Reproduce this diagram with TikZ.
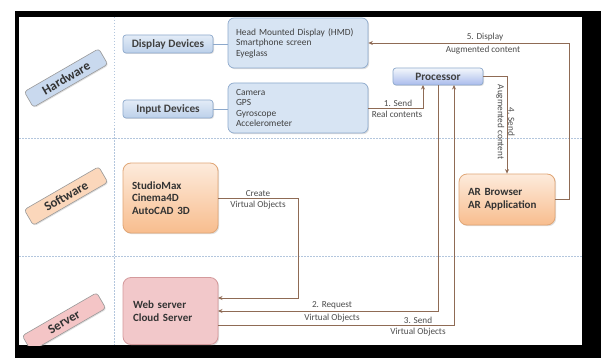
\documentclass[tikz,border=0pt]{standalone}
\usepackage{fontspec}
\setmainfont{Carlito}
\usetikzlibrary{arrows.meta,shadows}
\definecolor{arrc}{HTML}{8F6B55}
\definecolor{dotc}{HTML}{B3C6DD}
\definecolor{bluebd}{HTML}{8DA9CC}
\definecolor{bluetop}{HTML}{E3ECF7}
\definecolor{bluebot}{HTML}{BCD0EA}
\definecolor{orgtop}{HTML}{FDEBDC}
\definecolor{orgbot}{HTML}{F8BD8E}
\definecolor{orgbd}{HTML}{E0A676}
\definecolor{pinkf}{HTML}{F2C8CA}
\definecolor{pinkbd}{HTML}{D49A9C}
\tikzset{
  arr/.style={draw=arrc, line width=0.9pt, -{Stealth[length=4.5pt,width=4pt]}},
  conn/.style={draw=bluebd, line width=0.8pt},
  sep/.style={draw=dotc, line width=0.7pt, dash pattern=on 1.5pt off 1.5pt},
  catlabel/.style={draw=gray!80, line width=0.6pt, rounded corners=3pt, minimum width=86pt, minimum height=18pt, inner sep=1pt, rotate=30, font=\bfseries\fontsize{13}{14}\selectfont, text=black!80, drop shadow={opacity=0.25,shadow xshift=1pt,shadow yshift=-1pt}},
  devbox/.style={draw=bluebd, line width=0.7pt, rounded corners=3pt, top color=bluetop, bottom color=bluebot, minimum width=90pt, minimum height=18pt, inner sep=1pt, font=\bfseries\fontsize{11.3}{12}\selectfont, text=black!75, drop shadow={opacity=0.25,shadow xshift=1pt,shadow yshift=-1pt}},
  listbox/.style={draw=bluebd, line width=0.7pt, rounded corners=6pt, fill=bluetop!70!bluebot, minimum width=140pt, minimum height=50pt, text width=124pt, inner xsep=8pt, align=left, font=\fontsize{9.4}{10.6}\selectfont, text=black!75, drop shadow={opacity=0.25,shadow xshift=1.2pt,shadow yshift=-1.2pt}},
  procbox/.style={draw=bluebd, line width=0.7pt, rounded corners=3pt, top color=white!60!bluetop, bottom color=bluebot!90!blue, minimum width=90pt, minimum height=17pt, inner sep=1pt, font=\bfseries\fontsize{11.3}{12}\selectfont, text=black!75, drop shadow={opacity=0.25,shadow xshift=1pt,shadow yshift=-1pt}},
  orgbox/.style={draw=orgbd, line width=0.8pt, rounded corners=8pt, top color=orgtop, bottom color=orgbot, align=left, inner xsep=9pt, font=\bfseries\fontsize{11}{12.6}\selectfont, text=black!80, drop shadow={opacity=0.25,shadow xshift=1.2pt,shadow yshift=-1.2pt}},
  pinkbox/.style={draw=pinkbd, line width=0.8pt, rounded corners=8pt, fill=pinkf, align=left, inner xsep=10pt, font=\bfseries\fontsize{11}{12.8}\selectfont, text=black!80, drop shadow={opacity=0.25,shadow xshift=1.2pt,shadow yshift=-1.2pt}},
  lbl/.style={font=\fontsize{9.2}{10.5}\selectfont, text=black!70, inner sep=0.5pt}
}
\begin{document}
\begin{tikzpicture}[x=1pt,y=-1pt]
\useasboundingbox (0,0) rectangle (601,358);
% frame
\fill[white] (0,0) rectangle (601,358);
\fill[black] (15,11) rectangle (601,358);
\fill[white] (19,17) rectangle (582,345);
\begin{scope}
\clip (19,17) rectangle (582,345);
% separators
\draw[sep] (114,17) -- (114,345);
\draw[sep] (19,138) -- (582,138);
\draw[sep] (19,256) -- (582,256);
% category labels
\node[catlabel, fill=bluebot!80!white] (hw) at (66,78) {Hardware};
\node[catlabel, fill=orgbot!60!white] (sw) at (66,196) {Software};
\node[catlabel, fill=pinkf!95!red!90!white] (sv) at (64,322) {Server};
% boxes
\node[devbox] (disp) at (168,44) {Display Devices};
\node[devbox] (indev) at (168,109) {Input Devices};
\node[listbox] (hmd) at (298,43) {Head Mounted Display (HMD)\\Smartphone screen\\Eyeglass};
\node[listbox] (inp) at (298,108) {Camera\\GPS\\Gyroscope\\Accelerometer};
\node[procbox] (proc) at (438,76.5) {Processor};
\node[orgbox, minimum width=95pt, minimum height=70pt, text width=77pt] (studio) at (170.5,198) {StudioMax\\Cinema4D\\AutoCAD 3D};
\node[pinkbox, minimum width=95pt, minimum height=67pt, text width=75pt] (web) at (170.5,311) {Web server\\Cloud Server};
\node[orgbox, minimum width=96pt, minimum height=51pt, text width=78pt] (arb) at (507,199.5) {AR Browser\\AR Application};
\end{scope}
% plain connectors
\draw[conn] (disp.east) -- (hmd.west |- disp.east);
\draw[conn] (indev.east) -- (inp.west |- indev.east);
% coordinates
\coordinate (c1) at (423,85);
\coordinate (c3) at (454,85);
\coordinate (c5) at (569,43);
\coordinate (cc) at (298,198);
\coordinate (w1) at (218,298);
\coordinate (w2) at (218,311);
\coordinate (w3) at (218,325);
% 1
\draw[arr] (inp.east) -| (c1);
\node[lbl, anchor=south] at (398,107) {1. Send};
\node[lbl, anchor=north] at (397,110) {Real contents};
% 2
\draw[arr] (proc.south) |- (w2);
\node[lbl, anchor=south] at (332,310) {2. Request};
\node[lbl, anchor=north] at (332,313) {Virtual Objects};
% 3
\draw[arr] (w3) -| (c3);
\node[lbl, anchor=south] at (418,324) {3. Send};
\node[lbl, anchor=north] at (418,327) {Virtual Objects};
% create
\draw[arr] (studio.east) -- (cc) |- (w1);
\node[lbl, anchor=south] at (258,197) {Create};
\node[lbl, anchor=north] at (258,200) {Virtual Objects};
% 4
\draw[arr] (proc.east) -| (arb.north);
\node[lbl, rotate=-90, align=center] at (505.5,122) {4. Send\\Augmented content};
% 5
\draw[arr] (arb.east) -| (c5) -- (hmd.east);
\node[lbl, anchor=south] at (485,42) {5. Display};
\node[lbl, anchor=north] at (483,45) {Augmented content};
\end{tikzpicture}
\end{document}
